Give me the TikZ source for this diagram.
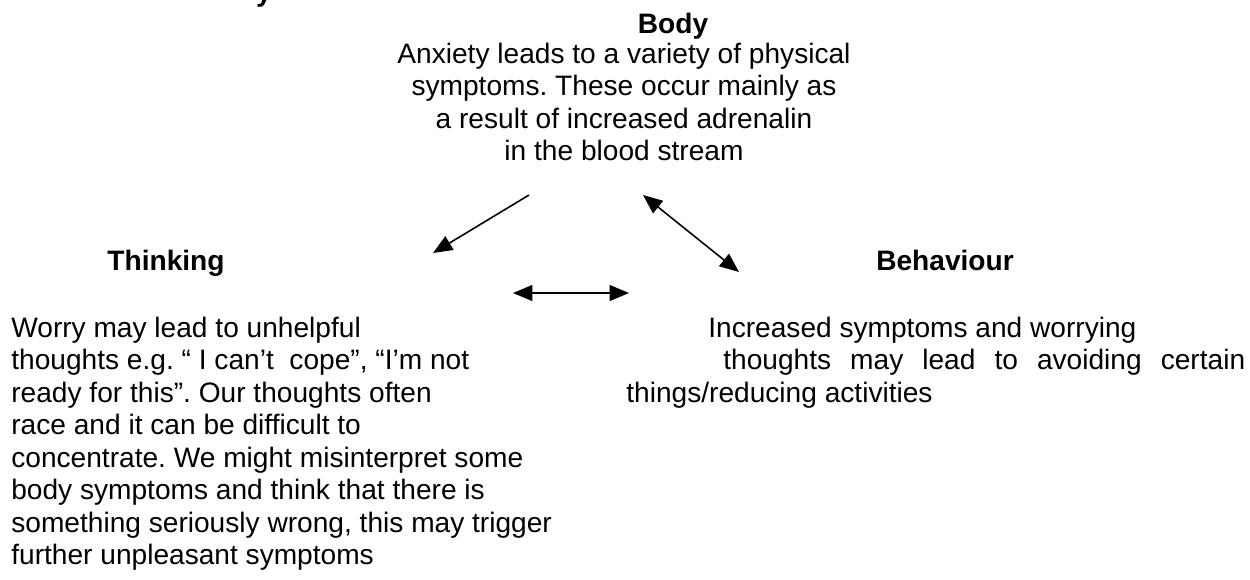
\documentclass[tikz,border=0pt]{standalone}
\usepackage{fontspec}
\setmainfont{Liberation Sans}
\usetikzlibrary{arrows.meta}
\frenchspacing

\begin{document}
\begin{tikzpicture}[
  x=0.02cm, y=-0.02cm,
  every node/.style={inner sep=0pt, font=\fontsize{16}{18.5}\selectfont},
  heading/.style={font=\fontsize{16}{18.5}\selectfont\bfseries, anchor=base},
  blurb/.style={anchor=north, align=center},
  link/.style={line width=0.9pt, -{Triangle[length=11pt, width=9pt]}},
  twoway/.style={line width=0.9pt, {Triangle[length=11pt, width=9pt]}-{Triangle[length=11pt, width=9pt]}}
]
\useasboundingbox (0,0) rectangle (1250,579);

% headings
\node[heading] (cut) at (264,1) {y};
\node[heading] (body) at (673,33) {Body};
\node[heading] (thinking) at (166,270) {Thinking};
\node[heading] (behaviour) at (945,270) {Behaviour};

% texts
\node[blurb] (body text) at (624,42.5) {Anxiety leads to a variety of physical\\
  symptoms. These occur mainly as\\
  a result of increased adrenalin\\
  in the blood stream};
\node[blurb, anchor=north west, align=left] (thinking text) at (11,316.5) {Worry may lead to unhelpful\\
  thoughts e.g. “ I can’t~~cope”, “I’m not\\
  ready for this”. Our thoughts often\\
  race and it can be difficult to\\
  concentrate. We might misinterpret some\\
  body symptoms and think that there is\\
  something seriously wrong, this may trigger\\
  further unpleasant symptoms};
\node[blurb, anchor=north west, align=left] (behaviour text) at (626,316.5) {\hspace*{1.64cm}Increased symptoms and worrying\\
  \hspace*{1.94cm}\makebox[10.44cm][s]{thoughts may lead to avoiding certain}\\
  things/reducing activities};

% arrows
\coordinate (body out) at (529,195);
\coordinate (thinking in) at (433,253);
\coordinate (body end) at (643,195);
\coordinate (behaviour end) at (739,272);
\coordinate (thinking end) at (513,293);
\coordinate (behaviour side) at (629,293);
\draw[link] (body out) -- (thinking in);
\draw[twoway] (body end) -- (behaviour end);
\draw[twoway] (thinking end) -- (behaviour side);
\end{tikzpicture}
\end{document}
